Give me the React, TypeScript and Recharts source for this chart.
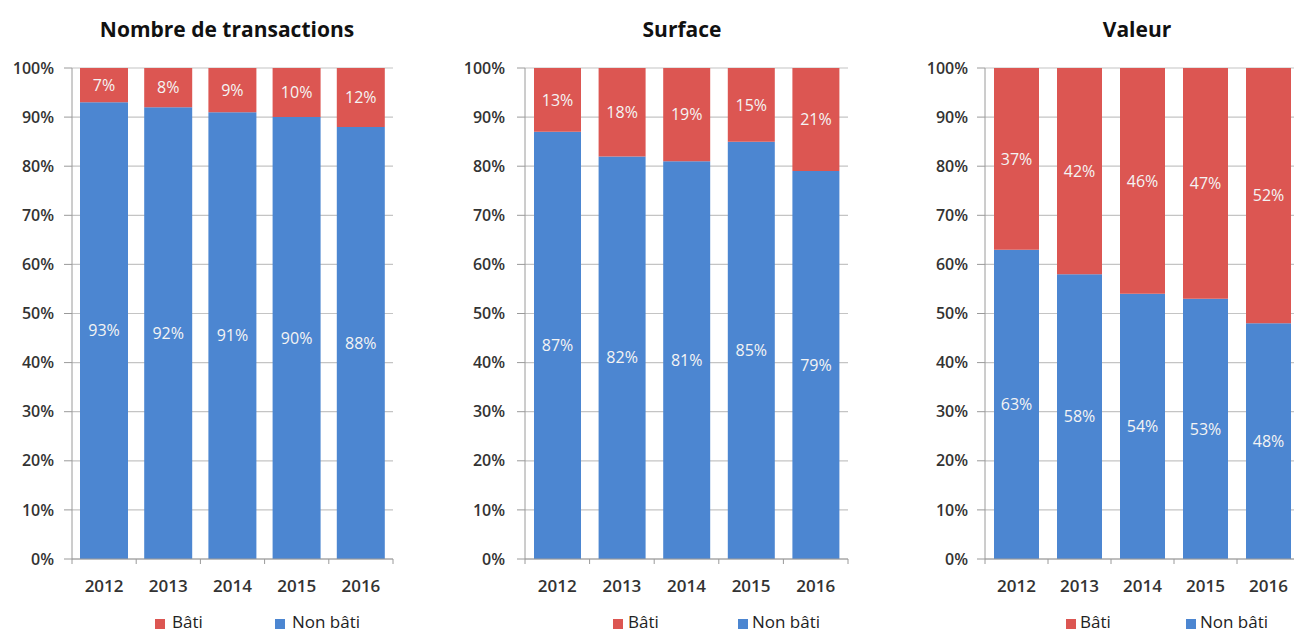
import React from 'react';
import { BarChart, Bar, XAxis, YAxis, CartesianGrid, LabelList } from 'recharts';

const years = ['2012', '2013', '2014', '2015', '2016'];
const yTicks = [0, 10, 20, 30, 40, 50, 60, 70, 80, 90, 100];

const transBati = [7, 8, 9, 10, 12];
const transNonBati = [93, 92, 91, 90, 88];
const surfBati = [13, 18, 19, 15, 21];
const surfNonBati = [87, 82, 81, 85, 79];
const valBati = [37, 42, 46, 47, 52];
const valNonBati = [63, 58, 54, 53, 48];

const BLUE = '#4C86D1';
const RED = '#DC5652';
const FONT = '"Open Sans", sans-serif';

const build = (bati: number[], nonBati: number[]) =>
  years.map((y, i) => ({ year: y, bati: bati[i], nonBati: nonBati[i] }));

type PanelProps = {
  title: string;
  data: { year: string; bati: number; nonBati: number }[];
  left: number;
  width: number;
  chartWidth: number;
  yAxisWidth: number;
  rightMargin: number;
  tickMargin: number;
  barSize: number;
  band: number;
  titleCenter: number;
  legend: { batiSq: number; batiText: number; nonSq: number; nonText: number };
};

const makeXTick = (band: number, count: number) => (props: any) => {
  const { x, y, payload, index } = props;
  const axisY = y - 21;
  return (
    <g>
      <line x1={x - band / 2} x2={x - band / 2} y1={axisY} y2={axisY + 5} stroke="#9a9a9a" />
      {index === count - 1 && (
        <line x1={x + band / 2} x2={x + band / 2} y1={axisY} y2={axisY + 5} stroke="#9a9a9a" />
      )}
      <text
        x={x}
        y={y}
        dy="0.71em"
        textAnchor="middle"
        fontFamily={FONT}
        fontSize={17}
        fontWeight={600}
        fill="#333"
      >
        {payload.value}
      </text>
    </g>
  );
};

const Panel = (p: PanelProps) => (
  <div style={{ position: 'absolute', left: p.left, top: 0, width: p.width, height: 633, overflow: 'hidden' }}>
    <div
      style={{
        position: 'absolute',
        left: p.titleCenter - p.left - 200,
        width: 400,
        top: 17,
        textAlign: 'center',
        fontFamily: FONT,
        fontWeight: 700,
        fontSize: 21,
        lineHeight: '24px',
        color: '#111',
      }}
    >
      {p.title}
    </div>
    <BarChart
      width={p.chartWidth}
      height={633}
      data={p.data}
      margin={{ top: 68, right: p.rightMargin, bottom: 0, left: 0 }}
    >
      <CartesianGrid vertical={false} stroke="#c4c4c4" strokeWidth={1.2} />
      <YAxis
        width={p.yAxisWidth}
        domain={[0, 100]}
        ticks={yTicks}
        interval={0}
        tickFormatter={(v: number) => `${v}%`}
        axisLine={{ stroke: '#9a9a9a' }}
        tickLine={{ stroke: '#9a9a9a' }}
        tickSize={8}
        tickMargin={p.tickMargin}
        tick={{ fontFamily: FONT, fontSize: 16, fontWeight: 600, fill: '#333' }}
      />
      <XAxis
        dataKey="year"
        height={74}
        axisLine={{ stroke: '#9a9a9a' }}
        tickLine={false}
        tickSize={6}
        tickMargin={15}
        interval={0}
        tick={makeXTick(p.band, years.length)}
      />
      <Bar dataKey="nonBati" stackId="a" fill={BLUE} barSize={p.barSize} isAnimationActive={false}>
        <LabelList
          dataKey="nonBati"
          position="center"
          formatter={(v: number) => `${v}%`}
          style={{ fontFamily: FONT, fontSize: 16, fill: '#f4f4f4' }}
        />
      </Bar>
      <Bar dataKey="bati" stackId="a" fill={RED} barSize={p.barSize} isAnimationActive={false}>
        <LabelList
          dataKey="bati"
          position="center"
          formatter={(v: number) => `${v}%`}
          style={{ fontFamily: FONT, fontSize: 16, fill: '#f4f4f4' }}
        />
      </Bar>
    </BarChart>
    {[
      { sq: p.legend.batiSq, tx: p.legend.batiText, color: RED, label: 'Bâti' },
      { sq: p.legend.nonSq, tx: p.legend.nonText, color: BLUE, label: 'Non bâti' },
    ].map((it) => (
      <React.Fragment key={it.label}>
        <div
          style={{
            position: 'absolute',
            left: it.sq - p.left,
            top: 619,
            width: 10,
            height: 10,
            background: it.color,
          }}
        />
        <div
          style={{
            position: 'absolute',
            left: it.tx - p.left,
            top: 612,
            fontFamily: FONT,
            fontSize: 17,
            lineHeight: '20px',
            color: '#222',
            whiteSpace: 'nowrap',
          }}
        >
          {it.label}
        </div>
      </React.Fragment>
    ))}
  </div>
);

export default function App() {
  return (
    <div style={{ position: 'absolute', left: 0, top: 0, width: 1294, height: 633, overflow: 'hidden', background: '#fff' }}>
      <Panel
        title="Nombre de transactions"
        data={build(transBati, transNonBati)}
        left={0}
        width={420}
        chartWidth={420}
        yAxisWidth={72}
        rightMargin={27}
        tickMargin={10}
        barSize={48}
        band={64.2}
        titleCenter={227}
        legend={{ batiSq: 155, batiText: 172, nonSq: 275, nonText: 292 }}
      />
      <Panel
        title="Surface"
        data={build(surfBati, surfNonBati)}
        left={440}
        width={420}
        chartWidth={420}
        yAxisWidth={85}
        rightMargin={12}
        tickMargin={12}
        barSize={47}
        band={64.6}
        titleCenter={682}
        legend={{ batiSq: 613, batiText: 628, nonSq: 738, nonText: 752 }}
      />
      <Panel
        title="Valeur"
        data={build(valBati, valNonBati)}
        left={900}
        width={394}
        chartWidth={410}
        yAxisWidth={85}
        rightMargin={10}
        tickMargin={9}
        barSize={45}
        band={63}
        titleCenter={1137}
        legend={{ batiSq: 1066, batiText: 1080, nonSq: 1186, nonText: 1200 }}
      />
    </div>
  );
}
